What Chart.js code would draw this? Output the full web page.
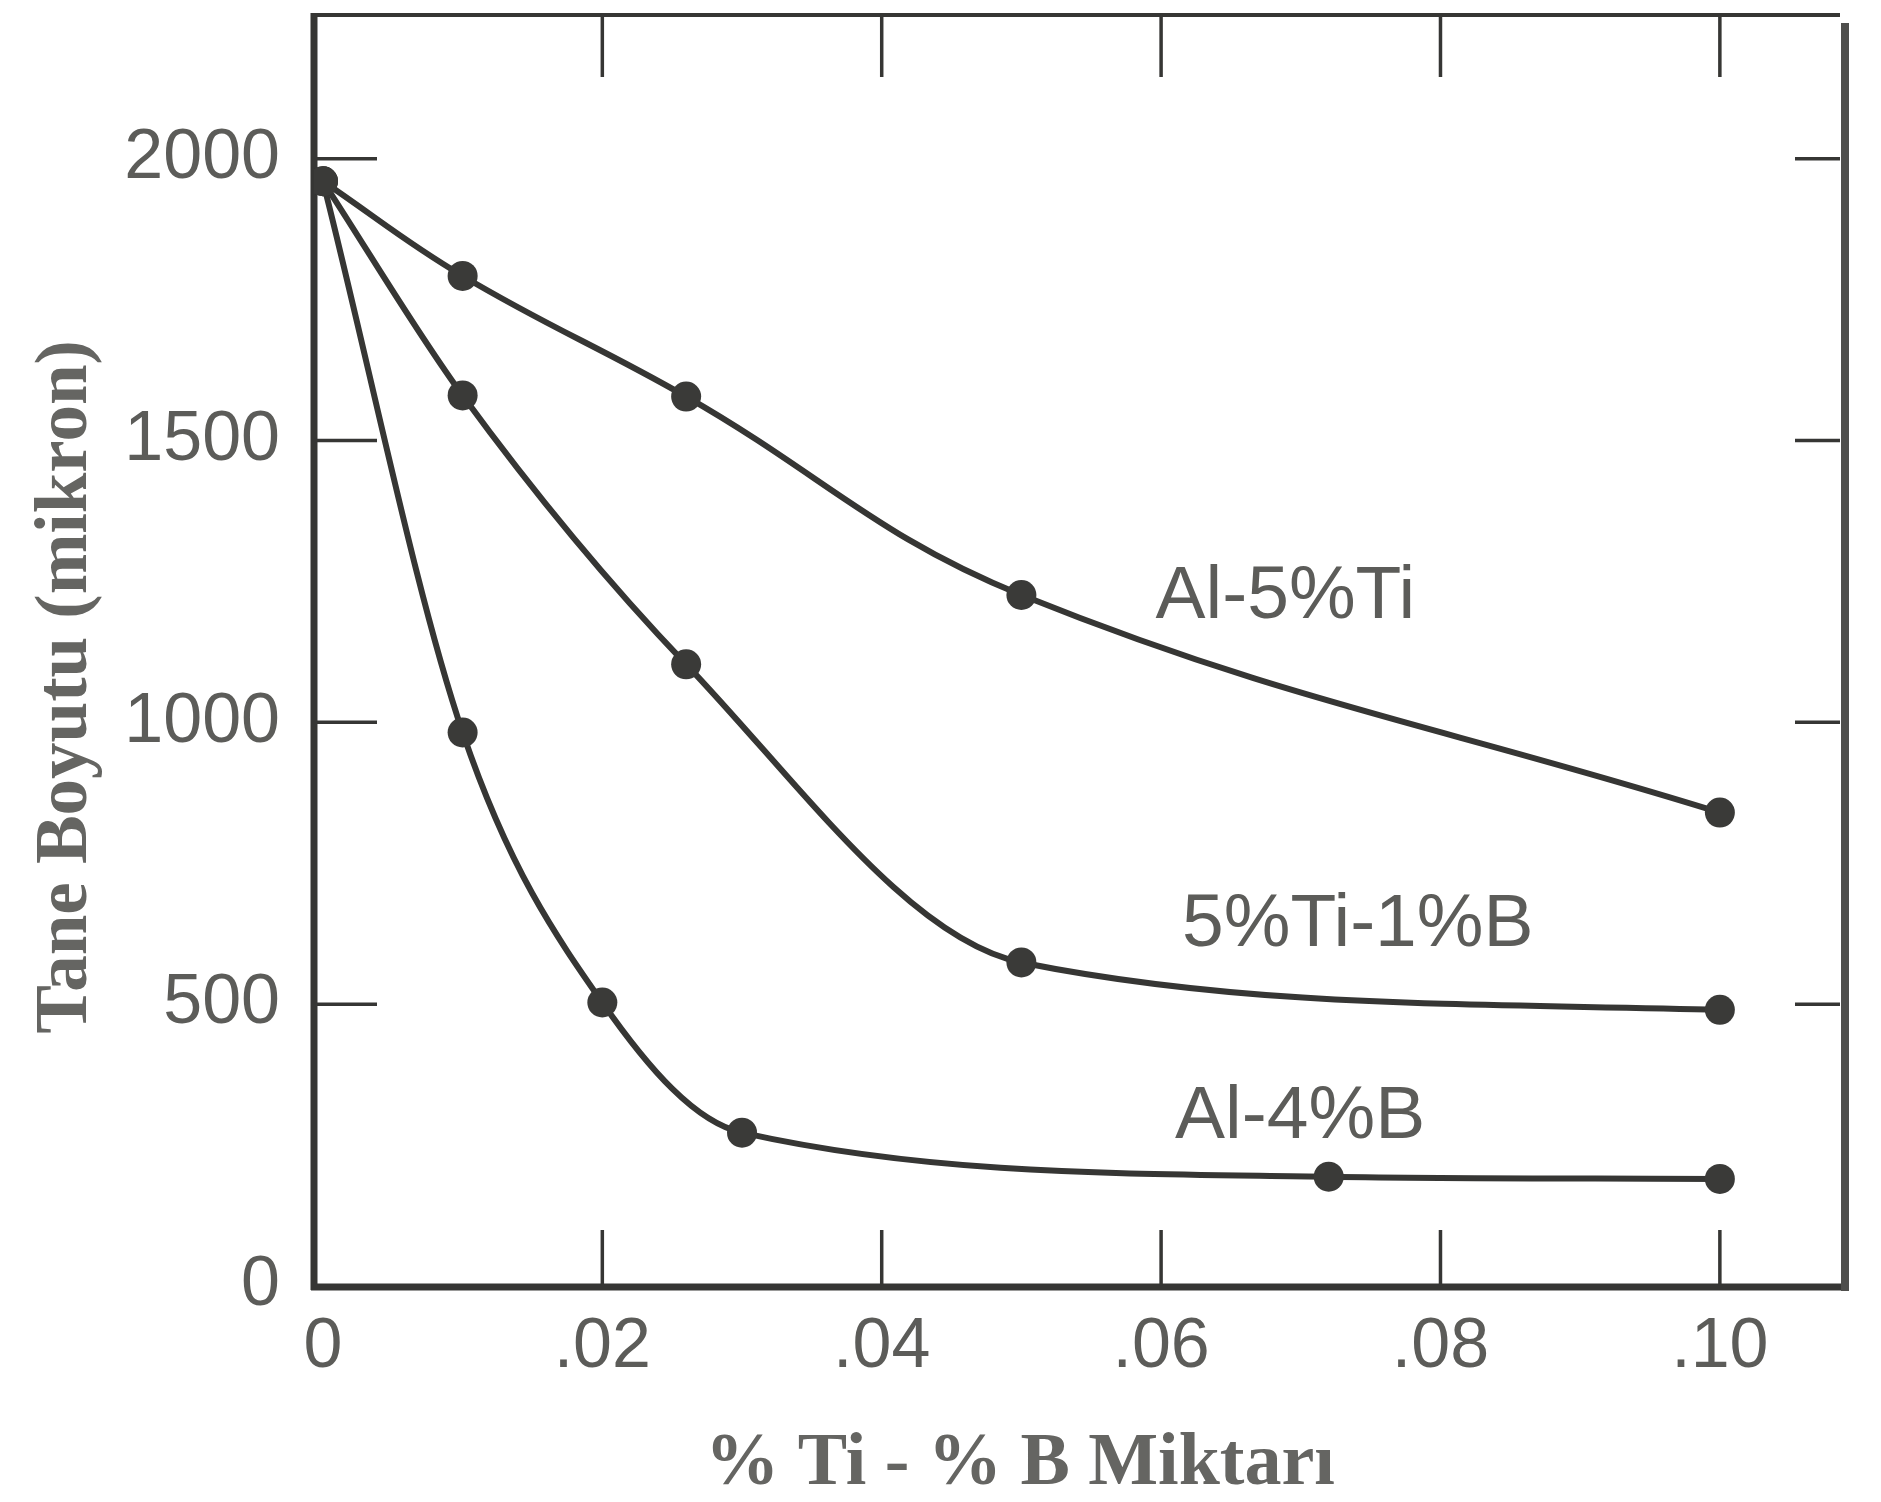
<!DOCTYPE html>
<html lang="tr">
<head>
  <meta charset="UTF-8" />
  <title>Tane Boyutu - % Ti - % B</title>
  <script src="https://cdn.jsdelivr.net/npm/chart.js"></script>
  <style>
    html, body { margin: 0; padding: 0; background: #fff; }
    #wrap { width: 1881px; height: 1502px; }
  </style>
</head>
<body>
  <div id="wrap"><canvas id="grainChart" width="1881" height="1502"></canvas></div>

  <script>
    // values
    const xAl5Ti = [0, 0.01, 0.026, 0.05, 0.10];
    const yAl5Ti = [1960, 1792, 1578, 1226, 840];

    const xTi1B = [0, 0.01, 0.026, 0.05, 0.10];
    const yTi1B = [1960, 1580, 1103, 574, 490];

    const xAl4B = [0, 0.01, 0.02, 0.03, 0.072, 0.10];
    const yAl4B = [1960, 982, 503, 272, 194, 190];

    const seriesNames = ['Al-5%Ti', '5%Ti-1%B', 'Al-4%B'];

    const xTickValues = [0, 0.02, 0.04, 0.06, 0.08, 0.10];
    const xTickLabels = ['0', '.02', '.04', '.06', '.08', '.10'];
    const yTickValues = [0, 500, 1000, 1500, 2000];
    const yTickLabels = ['0', '500', '1000', '1500', '2000'];

    const xTitle = '% Ti - % B Miktarı';
    const yTitle = 'Tane Boyutu (mikron)';

    const ink = '#363634';
    const textGrey = '#5c5c59';
    const sansFont = "'Liberation Sans', Arial, sans-serif";
    const serifFont = "'Liberation Serif', 'Times New Roman', serif";

    const zip = (xs, ys) => xs.map((x, i) => ({ x: x, y: ys[i] }));

    function curve(label, xs, ys, monotone) {
      return {
        label: label,
        data: zip(xs, ys),
        borderColor: ink,
        backgroundColor: ink,
        borderWidth: 6,
        pointRadius: 15,
        pointBackgroundColor: '#3a3a38',
        pointBorderWidth: 0,
        tension: 0.4,
        cubicInterpolationMode: monotone ? 'monotone' : 'default',
        fill: false
      };
    }

    // where the curve names sit, in data units
    const nameAnchors = [
      { x: 0.0596, y: 1186 },
      { x: 0.0615, y: 603 },
      { x: 0.0610, y: 262 }
    ];

    function stroke(ctx, x1, y1, x2, y2, w, color) {
      ctx.beginPath();
      ctx.lineWidth = w;
      ctx.strokeStyle = color || ink;
      ctx.moveTo(x1, y1);
      ctx.lineTo(x2, y2);
      ctx.stroke();
    }

    // box frame with inward ticks on all four sides
    const framePlugin = {
      id: 'frame',
      beforeDatasetsDraw(chart) {
        const { ctx, chartArea: a, scales: { x, y } } = chart;
        ctx.save();
        ctx.lineCap = 'butt';
        stroke(ctx, a.left, a.top - 2, a.left, a.bottom + 4, 7);
        stroke(ctx, a.left - 3, a.bottom + 1, a.right + 8, a.bottom + 1, 7);
        stroke(ctx, a.left - 3, a.top, a.right, a.top, 4);
        stroke(ctx, a.right + 5, a.top + 8, a.right + 5, a.bottom + 5, 8, '#4e4e4c');

        xTickValues.forEach(v => {
          if (v === 0) return;
          const px = x.getPixelForValue(v);
          stroke(ctx, px, a.top, px, a.top + 62, 3.5);
          stroke(ctx, px, a.bottom, px, a.bottom - 56, 3.5);
        });
        yTickValues.forEach(v => {
          if (v === 0) return;
          const py = y.getPixelForValue(v);
          stroke(ctx, a.left, py, a.left + 63, py, 3.5);
          stroke(ctx, a.right, py, a.right - 45, py, 3.5);
        });
        ctx.restore();
      },
      afterDraw(chart) {
        const { ctx, scales: { x, y } } = chart;
        ctx.save();
        ctx.fillStyle = textGrey;
        ctx.textBaseline = 'alphabetic';
        ctx.textAlign = 'left';
        ctx.font = '75px ' + sansFont;
        seriesNames.forEach((name, i) => {
          const p = nameAnchors[i];
          ctx.fillText(name, x.getPixelForValue(p.x), y.getPixelForValue(p.y));
        });

        ctx.fillStyle = '#656562';
        ctx.font = 'bold 74px ' + serifFont;
        ctx.textAlign = 'center';
        ctx.fillText(xTitle, 1020, 1484);

        ctx.translate(86, 687);
        ctx.rotate(-Math.PI / 2);
        ctx.font = 'bold 73px ' + serifFont;
        ctx.fillText(yTitle, 0, 0);
        ctx.restore();
      }
    };

    function noPad(s) {
      s.paddingTop = 0;
      s.paddingBottom = 0;
      s.paddingLeft = 0;
      s.paddingRight = 0;
    }

    const ctx = document.getElementById('grainChart').getContext('2d');
    const grainChart = new Chart(ctx, {
      type: 'line',
      data: {
        datasets: [
          curve(seriesNames[0], xAl5Ti, yAl5Ti, false),
          curve(seriesNames[1], xTi1B, yTi1B, true),
          curve(seriesNames[2], xAl4B, yAl4B, true)
        ]
      },
      options: {
        responsive: false,
        animation: false,
        layout: { padding: { top: 14, right: 41, left: 0, bottom: 0 } },
        plugins: {
          legend: { display: false },
          tooltip: { enabled: false }
        },
        scales: {
          x: {
            type: 'linear',
            min: -0.00064,
            max: 0.1086,
            grid: { display: false, drawTicks: false },
            border: { display: false },
            afterBuildTicks: s => { s.ticks = xTickValues.map(v => ({ value: v })); },
            afterFit: s => { s.height = 216; noPad(s); },
            ticks: {
              autoSkip: false,
              maxRotation: 0,
              padding: 20,
              color: textGrey,
              font: { family: sansFont, size: 70 },
              callback: (v, i) => xTickLabels[i]
            }
          },
          y: {
            type: 'linear',
            min: 0,
            max: 2255,
            grid: { display: false, drawTicks: false },
            border: { display: false },
            afterBuildTicks: s => { s.ticks = yTickValues.map(v => ({ value: v })); },
            afterFit: s => { s.width = 314; noPad(s); },
            ticks: {
              autoSkip: false,
              padding: 34,
              color: textGrey,
              font: { family: sansFont, size: 70 },
              callback: (v, i) => yTickLabels[i]
            }
          }
        }
      },
      plugins: [framePlugin]
    });
  </script>
</body>
</html>
